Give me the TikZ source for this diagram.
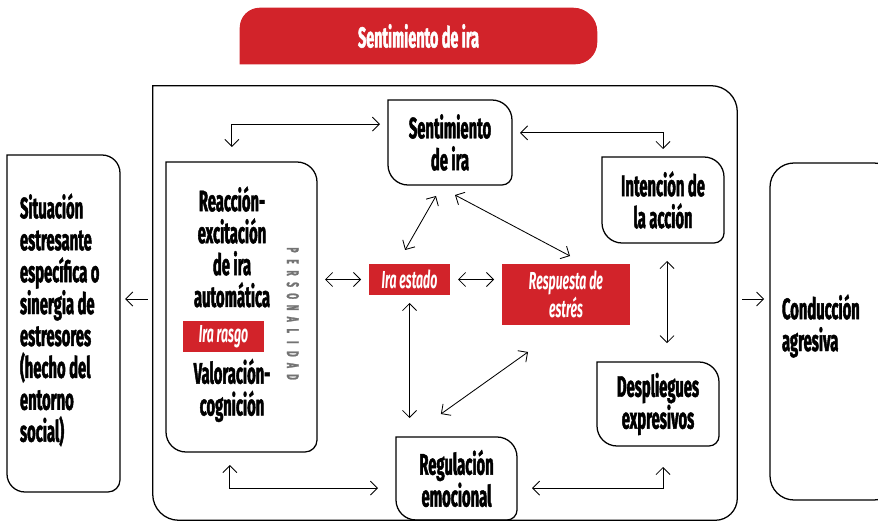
\documentclass[tikz,border=0pt]{standalone}
\usepackage{fontspec}
\setmainfont[FakeStretch=0.5, BoldFeatures={FakeBold=1.5}]{Fira Sans}
\usepackage{tikz}
\usetikzlibrary{calc,arrows.meta}
\definecolor{irared}{HTML}{D2232A}
\def\leafbox[#1](#2)(#3:#4){\draw[#1] (#2.north west) -- ($(#2.north east)+(-#3,0)$) arc (90:0:#3) -- ($(#2.south east)+(0,#4)$) arc (0:-90:#4) -- ($(#2.south west)+(#3,0)$) arc (270:180:#3) -- cycle;}
\tikzset{
	box/.style={rectangle, inner sep=0pt, outer sep=0pt, align=center, font=\bfseries\fontsize{21}{22.7}\selectfont},
	redbox/.style={rectangle, fill=irared, text=white, inner sep=0pt, outer sep=0pt, align=center, font=\bfseries\itshape\fontsize{17.5}{18}\selectfont},
	link/.style={line width=0.6pt, {Straight Barb[length=5pt,width=10pt]}-{Straight Barb[length=5pt,width=10pt]}, shorten <=0.2cm, shorten >=0.2cm},
	onearrow/.style={line width=0.6pt, -{Straight Barb[length=5pt,width=10pt]}, shorten <=0.13cm, shorten >=0.13cm},
}

\begin{document}
\begin{tikzpicture}
		\useasboundingbox (0,0) rectangle (21.95,13.05);
		%%%%% START %%%%%
		
		\node[minimum width=8.925cm, minimum height=1.4cm, inner sep=0pt] (banner) at (10.4625,12.15) {};
		\fill[irared] (banner.south west) -- ($(banner.north west)+(0,-0.5)$) arc (180:90:0.5) -- ($(banner.north east)+(-0.6,0)$) arc (90:0:0.6) -- ($(banner.south east)+(0,0.55)$) arc (0:-90:0.55) -- cycle;
		\node[text=white, font=\bfseries\fontsize{20.5}{22}\selectfont] (bantxt) at (banner) {Sentimiento de ira};
		
		\node[minimum width=14.6cm, minimum height=10.85cm, inner sep=0pt] (frame) at (11.125,5.475) {};
		\leafbox[line width=0.9pt](frame)(0.65:0.55)
		
		\node[box, minimum width=2.825cm, minimum height=8.425cm] (sit) at (1.5875,4.9625) {};
		\leafbox[line width=0.9pt](sit)(0.45:0.3)
		\node[box, anchor=west, align=left] (sittxt) at (0.5,5.05) {Situación\\estresante\\específica o\\sinergia de\\estresores\\(hecho del\\entorno\\social)};
		
		\begin{scope}
			\clip (0,0) rectangle (21.95,13.05);
			\node[draw, line width=0.9pt, rounded corners=0.6cm, minimum width=3.2cm, minimum height=8.425cm, inner sep=0pt] (cond) at (20.85,4.7625) {};
		\end{scope}
		\node[box, anchor=west, align=left] (condtxt) at (19.55,4.9) {Conducción\\agresiva};
		
		\node[box, minimum width=3.775cm, minimum height=7.25cm] (pers) at (6.0375,5.375) {};
		\leafbox[line width=0.9pt](pers)(0.5:0.3)
		\node[box] (react) at (5.8,6.875) {Reacción-\\excitación\\de ira\\automática};
		\node[redbox, minimum width=2.025cm, minimum height=0.775cm] (rasgo) at (5.5875,4.6375) {Ira rasgo};
		\node[box] (valor) at (5.8,3.2875) {Valoración-\\cognición};
		\foreach \l [count=\i] in {P,E,R,S,O,N,A,L,I,D,A,D}
			\node[rotate=-90, text=black!55, font=\bfseries\fontsize{12}{12}\selectfont] (pl\i) at (7.32,{6.8-0.2886*(\i-1)}) {\l};
		
		\node[box, minimum width=3.1cm, minimum height=2.125cm] (sent) at (11.25,9.4875) {Sentimiento\\de ira};
		\leafbox[line width=0.9pt](sent)(0.5:0.25)
		\node[box, minimum width=3.05cm, minimum height=2.15cm] (intent) at (16.575,8.05) {Intención de\\la acción};
		\leafbox[line width=0.9pt](intent)(0.5:0.25)
		\node[box, minimum width=3.05cm, minimum height=2.1cm] (despl) at (16.45,2.95) {Despliegues\\expresivos};
		\leafbox[line width=0.9pt](despl)(0.5:0.25)
		\node[box, minimum width=3.025cm, minimum height=2.075cm] (regul) at (11.4125,1.0875) {Regulación\\emocional};
		\leafbox[line width=0.9pt](regul)(0.5:0.25)
		
		\node[redbox, minimum width=2.025cm, minimum height=0.775cm] (estado) at (10.2375,6.0625) {Ira estado};
		\node[redbox, minimum width=3.2cm, minimum height=1.525cm] (resp) at (14.15,5.6875) {Respuesta de\\estrés};
		
		% loop round the outer frame
		\draw[link, shorten <=0.375cm] ([xshift=-0.24cm]pers.north) |- ([yshift=0.46cm]sent.west);
		\draw[link] ([yshift=0.24cm]sent.east) -| (intent.north);
		\draw[link, shorten <=0.45cm, shorten >=0.47cm] ([xshift=0.1cm]intent.south) -- ([xshift=0.1cm]intent.south |- despl.north);
		\draw[link, shorten <=0.525cm, shorten >=0.375cm] ([xshift=0.125cm]despl.south) |- ([yshift=-0.24cm]regul.east);
		\draw[link, shorten <=0.45cm, shorten >=0.325cm] ([yshift=-0.24cm]regul.west) -| ([xshift=-0.29cm]pers.south);
		
		% inner links
		\draw[link] (pers.east |- estado.west) -- (estado.west);
		\draw[link] (estado.east) -- (estado.east -| resp.west);
		\draw[link, shorten <=0pt, shorten >=0pt] ([shift={(-0.11,0.35)}]estado.north) -- ([shift={(-0.35,-0.275)}]sent.south);
		\draw[link, shorten <=0pt, shorten >=0pt] ([shift={(0.125,-0.25)}]sent.south) -- ([shift={(0.1,0.2)}]resp.north);
		\draw[link, shorten >=0.475cm] (estado.south) -- (estado.south |- regul.north);
		\draw[link, shorten <=0pt, shorten >=0pt] ([shift={(-0.95,-0.675)}]resp.south) -- ([shift={(-0.39,0.575)}]regul.north);
		
		\draw[onearrow] ([yshift=0.1cm]frame.west) -- ([yshift=0.1cm]frame.west -| sit.east);
		\draw[onearrow] ([yshift=0.1cm]frame.east) -- ([yshift=0.1cm]frame.east -| cond.west);
		
		%%%%% END %%%%%
	\end{tikzpicture}
\end{document}
